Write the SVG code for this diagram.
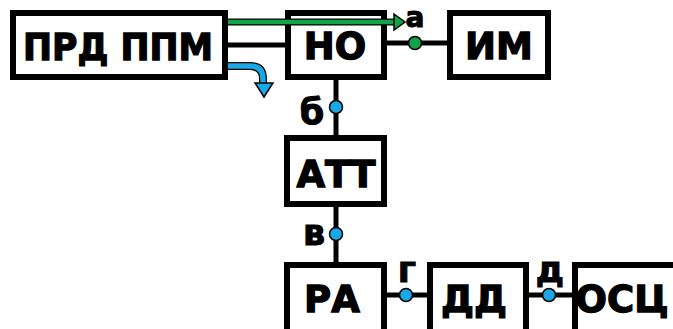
<svg xmlns="http://www.w3.org/2000/svg" width="673" height="329" viewBox="0 0 673 329">
<style>
.box{fill:#fff;stroke:#000;stroke-width:6}
.t{font-family:"DejaVu Sans",Verdana,sans-serif;font-weight:bold;font-size:37px;fill:#000;stroke:#000;stroke-width:1.3;text-anchor:middle}
.l{font-family:"DejaVu Sans",Verdana,sans-serif;font-weight:bold;font-size:35px;fill:#000;stroke:#000;stroke-width:1;text-anchor:middle}
.w{stroke:#000;stroke-width:5;fill:none}
.bd{fill:#1aa7e6;stroke:#000;stroke-width:1.5}
.gd{fill:#12a34a;stroke:#000;stroke-width:1.5}
</style>
<rect width="673" height="329" fill="#fff"/>
<g id="connectors">
<line class="w" x1="228" y1="45" x2="287" y2="45"/>
<line class="w" x1="385" y1="43" x2="449" y2="43"/>
<line class="w" x1="336" y1="78" x2="336" y2="137"/>
<line class="w" x1="336" y1="205" x2="336" y2="264"/>
<line class="w" x1="385" y1="295" x2="429" y2="295"/>
<line class="w" x1="527" y1="295" x2="574" y2="295"/>
</g>
<g id="prd"><rect class="box" x="13" y="13" width="212" height="64"/><text class="t" x="118" y="60" textLength="190" lengthAdjust="spacingAndGlyphs">ПРД ППМ</text></g>
<g id="no"><rect class="box" x="288" y="13" width="96" height="64"/><text class="t" x="335" y="59">НО</text></g>
<g id="im"><rect class="box" x="450" y="13" width="98" height="64"/><text class="t" x="499" y="59">ИМ</text></g>
<g id="att"><rect class="box" x="287" y="138" width="97" height="66"/><text class="t" x="336" y="187">АТТ</text></g>
<g id="ra"><rect class="box" x="287" y="265" width="97" height="72"/><text class="t" x="332" y="312">РА</text></g>
<g id="dd"><rect class="box" x="430" y="265" width="96" height="72"/><text class="t" x="474" y="312">ДД</text></g>
<g id="osc"><rect class="box" x="575" y="265" width="110" height="72"/><text class="t" x="622" y="312">ОСЦ</text></g>
<g id="signals">
<line x1="228" y1="22" x2="395" y2="22" stroke="#000" stroke-width="7"/>
<line x1="228" y1="22" x2="396" y2="22" stroke="#12a34a" stroke-width="4.5"/>
<polygon points="394,14 405,22 394,30" fill="#12a34a" stroke="#000" stroke-width="1.5"/>
<path d="M228,66 H250 Q263,66 263,79 V85" fill="none" stroke="#000" stroke-width="8"/>
<path d="M228,66 H250 Q263,66 263,79 V86" fill="none" stroke="#1aa7e6" stroke-width="5.5"/>
<polygon points="255,83 273,83 264,97" fill="#1aa7e6" stroke="#000" stroke-width="1.5"/>
</g>
<g id="points">
<circle class="gd" cx="415" cy="43" r="6.5"/>
<circle class="bd" cx="336" cy="107" r="6.5"/>
<circle class="bd" cx="336" cy="234" r="6.5"/>
<circle class="bd" cx="406" cy="295" r="6.5"/>
<circle class="bd" cx="549" cy="295" r="6.5"/>
<text class="l" x="415" y="27" style="font-size:28px">а</text>
<text class="l" x="312" y="124">б</text>
<text class="l" x="314" y="245">в</text>
<text class="l" x="407" y="282">г</text>
<text class="l" x="550" y="282">д</text>
</g>
</svg>
